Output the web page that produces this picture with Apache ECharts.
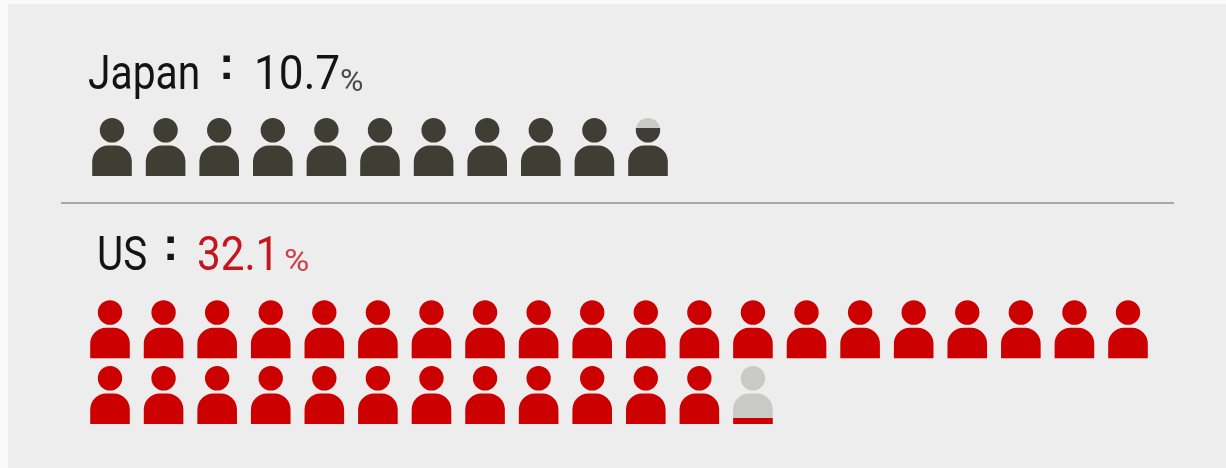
<!DOCTYPE html>
<html>
<head>
<meta charset="utf-8">
<style>html,body{margin:0;padding:0;background:#fafafa}#c{width:1226px;height:468px}</style>
<script src="https://cdn.jsdelivr.net/npm/echarts@6/dist/echarts.min.js"></script>
</head>
<body>
<div id="c"></div>
<script>
const countries = ['Japan', 'US'];
const shares = ['10.7', '32.1'];
const japanIconFill = [1, 1, 1, 1, 1, 1, 1, 1, 1, 1, 0.82];
const usIconFill = [
  1, 1, 1, 1, 1, 1, 1, 1, 1, 1, 1, 1, 1, 1, 1, 1, 1, 1, 1, 1,
  1, 1, 1, 1, 1, 1, 1, 1, 1, 1, 1, 1, 0.1
];
const iconsPerRow = 20;

const personPath = 'path://M7.7,12.3 A12.3,12.3 0 1 1 32.3,12.3 A12.3,12.3 0 1 1 7.7,12.3 Z ' +
  'M0,58 L0,43.5 A16,16 0 0 1 16,27.5 L24,27.5 A16,16 0 0 1 40,43.5 L40,58 Z';

const GREY = '#c9c9c5';
function fillStyle(share, color) {
  if (share >= 1) return color;
  const cut = 1 - share;
  return new echarts.graphic.LinearGradient(0, 0, 0, 1, [
    { offset: 0, color: GREY }, { offset: cut, color: GREY },
    { offset: cut, color: color }, { offset: 1, color: color }
  ]);
}
function toPoints(fills, color) {
  return fills.map((share, i) => ({
    value: [i % iconsPerRow, Math.floor(i / iconsPerRow)],
    itemStyle: { color: fillStyle(share, color), opacity: 1 }
  }));
}
function pictoSeries(idx, fills, color) {
  return {
    type: 'scatter', xAxisIndex: idx, yAxisIndex: idx,
    symbol: personPath, symbolSize: [39.6, 58], symbolKeepAspect: false,
    silent: true, clip: false, data: toPoints(fills, color)
  };
}
function axisX(i) { return { gridIndex: i, type: 'value', min: 0, max: iconsPerRow - 1, show: false }; }
function axisY(i) { return { gridIndex: i, type: 'value', min: 0, max: 1, inverse: true, show: false }; }

function label(text, x, y, font, fill, scaleX) {
  return {
    type: 'text', x, y, scaleX: scaleX || 1, silent: true,
    style: { text, x: 0, y: 0, font, fill, verticalAlign: 'middle', align: 'left' }
  };
}
const MAIN = '400 48px Roboto';
const PCT = '400 32px Roboto';
const COLON = 'bold 46px "Liberation Sans"';

const chart = echarts.init(document.getElementById('c'), null, { renderer: 'canvas' });
chart.setOption({
  animation: false,
  backgroundColor: 'transparent',
  grid: [
    { left: 112, top: 147, width: 1018.4, height: 66 },
    { left: 110, top: 329.2, width: 1018, height: 65.8 }
  ],
  xAxis: [axisX(0), axisX(1)],
  yAxis: [axisY(0), axisY(1)],
  series: [
    pictoSeries(0, japanIconFill, '#3f3e35'),
    pictoSeries(1, usIconFill, '#cc0000')
  ],
  graphic: [
    { type: 'rect', z: -10, silent: true, shape: { x: 8, y: 4, width: 1218, height: 464 }, style: { fill: '#ededed' } },
    { type: 'line', z: -5, silent: true, shape: { x1: 61, y1: 203, x2: 1174, y2: 203 }, style: { stroke: '#a9a99f', lineWidth: 2 } },
    label(countries[0], 88, 77, MAIN, '#141414', 0.85),
    label(':', 219, 66, COLON, '#141414'),
    label(shares[0], 254, 77, MAIN, '#141414', 0.92),
    label('%', 340, 83, PCT, '#4a4a4a', 1.0),
    label(countries[1], 97, 258, MAIN, '#141414', 0.84),
    label(':', 163, 247, COLON, '#141414'),
    label(shares[1], 197, 258, MAIN, '#c4161c', 0.88),
    label('%', 284, 263, PCT, '#c9424a', 1.08)
  ]
});
</script>
</body>
</html>
